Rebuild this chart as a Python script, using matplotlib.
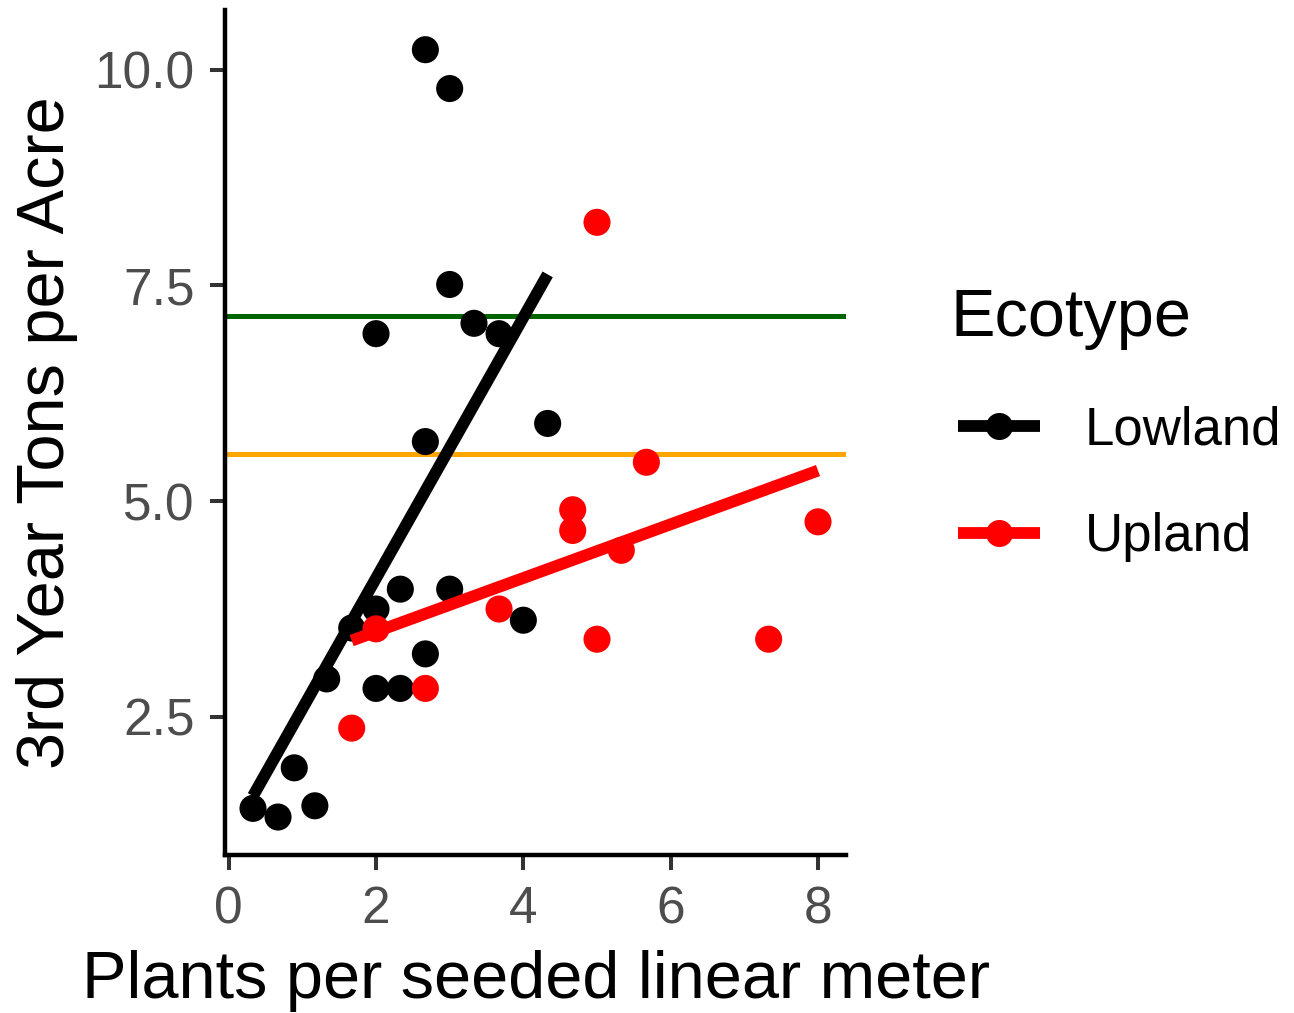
import numpy as np
import matplotlib
matplotlib.use("Agg")
import matplotlib.pyplot as plt
from matplotlib.lines import Line2D

plt.rcParams['font.family'] = ['Liberation Sans', 'DejaVu Sans']

# Data
low_x = [0.33, 0.67, 0.89, 1.17, 1.33, 1.67, 2.0, 2.0, 2.33, 2.33, 2.67,
         2.67, 2.67, 3.0, 3.0, 3.0, 2.0, 3.33, 3.67, 4.33, 4.0]
low_y = [1.44, 1.34, 1.91, 1.47, 2.94, 3.53, 3.75, 2.83, 2.83, 3.98, 3.23,
         5.69, 10.23, 9.78, 7.51, 3.98, 6.94, 7.06, 6.94, 5.90, 3.62]
up_x = [1.67, 2.0, 2.67, 3.67, 5.0, 4.67, 4.67, 5.67, 5.33, 5.0, 7.33, 8.0]
up_y = [2.37, 3.52, 2.83, 3.75, 8.23, 4.90, 4.66, 5.45, 4.43, 3.40, 3.40, 4.76]
groups = ["Lowland", "Upland"]
colors = ["#000000", "#FF0000"]
hline_values = [7.14, 5.55]
hline_colors = ["#006400", "#FFA500"]
x_ticks = [0, 2, 4, 6, 8]
y_ticks = [2.5, 5.0, 7.5, 10.0]
y_ticklabels = ["2.5", "5.0", "7.5", "10.0"]

W, H = 1294, 1013
fig = plt.figure(figsize=(W / 100, H / 100), dpi=100)
ax = fig.add_axes([225 / W, 1 - 855 / H, (846 - 225) / W, (855 - 10) / H])

for yv, c in zip(hline_values, hline_colors):
    ax.axhline(yv, color=c, lw=3.6, zorder=1)

data = [(low_x, low_y), (up_x, up_y)]
for (xs, ys), c in zip(data, colors):
    xs = np.array(xs); ys = np.array(ys)
    ax.scatter(xs, ys, s=380, color=c, edgecolors='none', zorder=3)
    b, a = np.polyfit(xs, ys, 1)
    xx = np.array([xs.min(), xs.max()])
    ax.plot(xx, a + b * xx, color=c, lw=8.5, solid_capstyle='butt', zorder=4)

ax.set_xlim(-0.05, 8.38)
ax.set_ylim(0.9, 10.69)
ax.set_xticks(x_ticks)
ax.set_xticklabels([str(t) for t in x_ticks])
ax.set_yticks(y_ticks)
ax.set_yticklabels(y_ticklabels)

for s in ['top', 'right']:
    ax.spines[s].set_visible(False)
for s in ['left', 'bottom']:
    ax.spines[s].set_linewidth(3.2)
    ax.spines[s].set_color('black')
ax.tick_params(axis='both', length=10.8, width=2.9, color='#333333',
               labelcolor='#4D4D4D', labelsize=37)
ax.tick_params(axis='x', pad=11)
ax.tick_params(axis='y', pad=11)

ax.set_xlabel("Plants per seeded linear meter", fontsize=48, labelpad=11)
ax.set_ylabel("3rd Year Tons per Acre", fontsize=48, labelpad=12)

# legend title
fig.text(950 / W, 1 - 336 / H, "Ecotype", fontsize=48, ha='left',
         va='baseline')
handles = [Line2D([0], [0], color=c, lw=8.5, marker='o', markersize=19.5,
                  markeredgewidth=0, solid_capstyle='butt') for c in colors]
leg = fig.legend(handles, groups, loc='upper left',
                 bbox_to_anchor=(958 / W, 1 - 405 / H),
                 frameon=False, fontsize=38,
                 handlelength=1.55, handletextpad=0.85,
                 labelspacing=1.08, borderpad=0, borderaxespad=0)

fig.savefig("out.png", dpi=100)
